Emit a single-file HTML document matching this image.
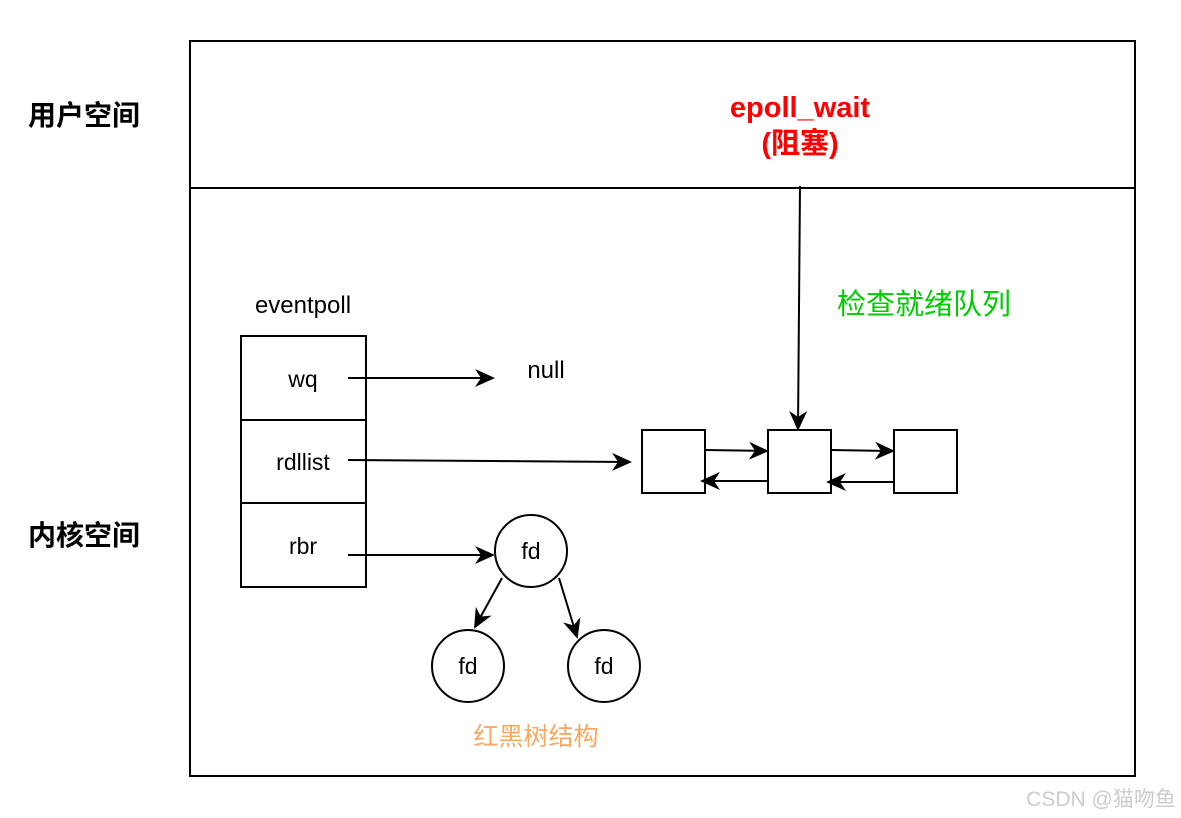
<!DOCTYPE html>
<html><head><meta charset="utf-8"><style>
html,body{margin:0;padding:0;background:#fff;}
svg{display:block;}
text{font-family:"Liberation Sans","Noto Sans CJK SC",sans-serif;}
</style></head><body>
<svg width="1181" height="818" viewBox="0 0 1181 818" xmlns="http://www.w3.org/2000/svg">
<defs>
<marker id="b" viewBox="0 0 10 10" refX="9" refY="5" markerWidth="20" markerHeight="20" orient="auto" markerUnits="userSpaceOnUse">
<path d="M0,0.5 L10,5 L0,9.5 L3,5 Z" fill="#000"/>
</marker>
</defs>
<rect x="190" y="41" width="945" height="735" fill="none" stroke="#000" stroke-width="2"/>
<line x1="190" y1="188" x2="1135" y2="188" stroke="#000" stroke-width="2"/>
<text x="84" y="125" font-size="28" font-weight="bold" text-anchor="middle">用户空间</text>
<text x="84" y="545" font-size="28" font-weight="bold" text-anchor="middle">内核空间</text>
<text x="800" y="117" font-size="29" font-weight="bold" fill="#ff0000" text-anchor="middle">epoll_wait</text>
<text x="800" y="153" font-size="29" font-weight="bold" fill="#ff0000" text-anchor="middle">(阻塞)</text>
<text x="924" y="314" font-size="29" fill="#00cc00" text-anchor="middle">检查就绪队列</text>
<text x="303" y="313" font-size="24" text-anchor="middle">eventpoll</text>
<rect x="241" y="336" width="125" height="251" fill="#fff" stroke="#000" stroke-width="2"/>
<line x1="241" y1="420" x2="366" y2="420" stroke="#000" stroke-width="2"/>
<line x1="241" y1="503" x2="366" y2="503" stroke="#000" stroke-width="2"/>
<text x="303" y="387" font-size="23" text-anchor="middle">wq</text>
<text x="303" y="470" font-size="23" text-anchor="middle">rdllist</text>
<text x="303" y="554" font-size="23" text-anchor="middle">rbr</text>
<text x="546" y="378" font-size="24" text-anchor="middle">null</text>
<g stroke="#000" stroke-width="2" fill="none">
<line x1="348" y1="378" x2="493" y2="378" marker-end="url(#b)"/>
<line x1="348" y1="460" x2="630" y2="462" marker-end="url(#b)"/>
<line x1="348" y1="555" x2="493" y2="555" marker-end="url(#b)"/>
<line x1="800" y1="186" x2="798" y2="429" marker-end="url(#b)"/>
<rect x="642" y="430" width="63" height="63" fill="#fff"/>
<rect x="768" y="430" width="63" height="63" fill="#fff"/>
<rect x="894" y="430" width="63" height="63" fill="#fff"/>
<line x1="705" y1="450" x2="767" y2="451" marker-end="url(#b)"/>
<line x1="768" y1="481" x2="702" y2="481" marker-end="url(#b)"/>
<line x1="831" y1="450" x2="893" y2="451" marker-end="url(#b)"/>
<line x1="894" y1="482" x2="828" y2="482" marker-end="url(#b)"/>
<circle cx="531" cy="551" r="36" fill="#fff"/>
<circle cx="468" cy="666" r="36" fill="#fff"/>
<circle cx="604" cy="666" r="36" fill="#fff"/>
<line x1="502" y1="578" x2="475" y2="627" marker-end="url(#b)"/>
<line x1="559" y1="578" x2="577" y2="637" marker-end="url(#b)"/>
</g>
<text x="531" y="559" font-size="23" text-anchor="middle">fd</text>
<text x="468" y="674" font-size="23" text-anchor="middle">fd</text>
<text x="604" y="674" font-size="23" text-anchor="middle">fd</text>
<text x="536" y="745" font-size="25" fill="#f8a860" text-anchor="middle">红黑树结构</text>
<text x="1101" y="806" font-size="21" fill="#cccccc" text-anchor="middle">CSDN @猫吻鱼</text>
</svg>
</body></html>
